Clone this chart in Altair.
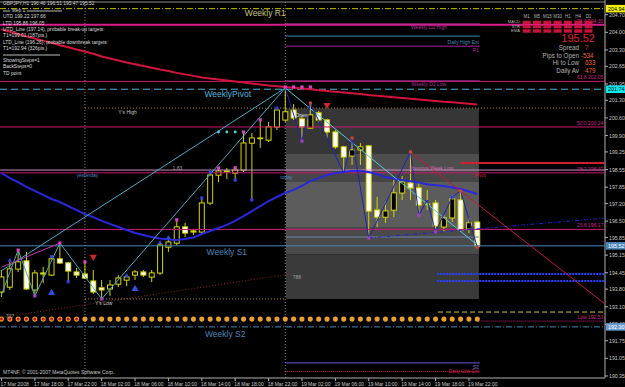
import altair as alt
import pandas as pd

# ---------------- data ----------------
open_ = [193.69, 193.88, 194.60, 194.92, 193.77, 194.44, 194.36, 195.00, 194.84, 194.48,
         194.40, 194.12, 193.85, 193.81, 194.00, 194.16, 194.36, 194.48, 194.28, 194.44,
         195.47, 195.63, 196.27, 196.11, 196.07, 197.22, 198.33, 198.49, 198.41, 198.53,
         199.60, 199.80, 199.72, 200.24, 200.52, 200.91, 200.56, 200.20, 200.80, 200.52,
         200.04, 199.45, 199.09, 199.33, 199.49, 196.94, 196.66, 196.94, 197.62, 198.01,
         197.82, 197.18, 197.22, 196.27, 196.63, 197.34, 196.19, 196.46]
high = [194.56, 194.88, 195.35, 195.28, 194.56, 194.68, 195.12, 195.63, 194.88, 194.64,
        194.88, 194.56, 194.16, 194.16, 194.36, 194.36, 194.56, 194.56, 194.56, 195.63,
        195.83, 196.55, 196.43, 196.19, 197.38, 198.45, 198.61, 198.61, 198.65, 200.00,
        200.00, 200.52, 200.44, 200.99, 201.79, 201.15, 200.64, 201.19, 200.88, 200.56,
        200.12, 199.49, 199.80, 199.60, 199.53, 197.46, 197.26, 198.13, 198.29, 199.25,
        198.01, 197.74, 197.34, 196.74, 197.54, 197.70, 196.63, 196.51]
low = [193.49, 193.77, 194.48, 193.77, 193.53, 194.04, 194.32, 194.80, 194.08, 194.24,
       194.20, 193.61, 193.41, 193.53, 193.88, 193.92, 194.16, 194.28, 194.08, 194.36,
       195.28, 195.55, 195.87, 195.95, 195.99, 197.14, 198.05, 198.17, 198.13, 198.45,
       197.34, 199.41, 199.64, 200.12, 200.44, 200.52, 199.68, 200.16, 200.44, 199.80,
       199.37, 198.41, 198.73, 198.73, 195.83, 196.27, 196.43, 196.66, 197.34, 197.34,
       196.74, 196.94, 196.07, 196.07, 196.47, 196.07, 196.03, 195.47]
close = [194.28, 194.60, 194.88, 193.81, 194.44, 194.40, 195.00, 194.84, 194.52, 194.36,
         194.24, 193.69, 193.77, 193.96, 194.24, 194.28, 194.48, 194.36, 194.44, 195.55,
         195.67, 196.27, 196.03, 196.07, 197.22, 198.33, 198.49, 198.47, 198.53, 199.60,
         199.80, 199.78, 200.24, 200.91, 200.84, 200.60, 200.24, 200.72, 200.52, 200.04,
         199.45, 199.05, 199.33, 199.45, 196.90, 196.66, 196.90, 197.62, 198.05, 197.82,
         197.14, 197.16, 196.31, 196.63, 197.38, 196.15, 196.43, 195.52]
ma_blue = [198.41, 198.21, 198.05, 197.86, 197.70, 197.54, 197.38, 197.26, 197.10, 196.94,
           196.78, 196.66, 196.51, 196.39, 196.27, 196.15, 196.03, 195.95, 195.87, 195.81,
           195.77, 195.75, 195.79, 195.85, 195.99, 196.11, 196.23, 196.35, 196.51, 196.70,
           196.90, 197.10, 197.30, 197.46, 197.62, 197.74, 197.90, 198.09, 198.21, 198.33,
           198.41, 198.45, 198.49, 198.49, 198.45, 198.37, 198.25, 198.19, 198.13, 198.09,
           198.03, 197.97, 197.93, 197.90, 197.84, 197.78, 197.68, 197.58]
ma_red = [204.12, 204.02, 203.93, 203.84, 203.75, 203.67, 203.58, 203.49, 203.41, 203.32,
          203.24, 203.15, 203.04, 202.96, 202.88, 202.80, 202.73, 202.66, 202.59, 202.52,
          202.46, 202.39, 202.33, 202.27, 202.21, 202.17, 202.13, 202.09, 202.05, 202.01,
          201.97, 201.93, 201.89, 201.86, 201.83, 201.80, 201.77, 201.74, 201.70, 201.67,
          201.64, 201.61, 201.58, 201.55, 201.51, 201.48, 201.45, 201.42, 201.39, 201.36,
          201.33, 201.30, 201.27, 201.24, 201.22, 201.19, 201.16, 201.13]

time_labels = ["17 Mar 2008", "17 Mar 18:00", "17 Mar 22:00", "18 Mar 02:00", "18 Mar 06:00",
               "18 Mar 10:00", "18 Mar 14:00", "18 Mar 18:00", "18 Mar 22:00", "19 Mar 02:00",
               "19 Mar 06:00", "19 Mar 10:00", "19 Mar 14:00", "19 Mar 18:00", "19 Mar 22:00"]
price_ticks = [204.70, 204.00, 203.30, 202.65, 201.95, 201.30, 200.60, 199.90, 199.25, 198.55,
               197.85, 197.20, 196.50, 195.85, 195.15, 194.45, 193.80, 193.10, 192.40, 191.75,
               191.05, 190.35]

fib_levels = [192.53, 196.17, 198.42, 200.24, 202.05, 204.30]
fib_names = ["Low", "23.6", "38.2", "50.0", "61.8", "76.4"]
weekly_r1, weekly_pivot, weekly_s1, weekly_s2 = 204.94, 201.74, 195.52, 192.30
weekly_d2_high, weekly_d2_low = 204.33, 202.07
daily_high_ext, daily_r1, daily_s2, daily_low_ext = 203.85, 203.45, 190.87, 190.53
prev_week_low, today_level = 198.53, 195.87
ys_high, ys_low = 200.99, 193.41
box_bands = [200.97, 199.17, 198.53, 198.06, 196.27, 195.19, 193.41]

zz_left_i = [0, 2, 4, 7, 12, 34]
zz_left_p = [193.57, 195.35, 193.53, 195.63, 193.41, 201.79]
tl_a_i = [0, 34]
tl_a_p = [194.53, 201.79]
tl_pink_i = [0, 7]
tl_pink_p = [194.67, 195.63]
tl_c_i = [34, 57.3]
tl_c_p = [201.79, 195.47]
zz_right_i = [34, 36, 37, 41, 42, 44, 49, 50, 51, 52, 54, 55, 57]
zz_right_p = [201.79, 199.68, 201.19, 198.41, 199.80, 195.83, 199.25, 196.74, 197.34, 196.08, 197.46, 197.70, 195.47]
ltd_i = [44, 72.3]
ltd_p = [195.83, 196.62]
utd_i = [49, 72.3]
utd_p = [199.25, 193.21]
dot_line_i = [0, 34.6]
dot_line_p = [192.68, 194.40]
dots_price = 192.61

hi_mark_i = [2, 7, 10, 21, 26, 28, 29, 31, 34, 35, 36, 37]
hi_mark_p = [195.35, 195.63, 194.88, 196.55, 198.61, 198.62, 200.04, 200.52, 201.83, 201.83, 201.83, 201.83]
lo_mark_i = [4, 12, 36, 44, 50, 52]
lo_mark_p = [193.53, 193.41, 199.68, 195.83, 196.74, 196.08]
red_mark_i = [37, 42, 49, 55, 57]
red_mark_p = [201.19, 199.80, 199.25, 197.70, 195.47]
blue_mark_i = [6, 8, 24, 25, 28, 30, 33, 54]
blue_mark_p = [195.09, 194.09, 197.42, 198.45, 198.13, 197.34, 200.99, 197.46]
cyan_mark_i = [26, 27, 28]
cyan_mark_p = [200.04, 200.04, 200.04]
up_big_i = [6, 16]
up_big_p = [193.69, 193.85]
up_small_i = [1, 15, 19, 20]
up_small_p = [194.96, 194.36, 195.67, 195.87]
dn_big_i = [11, 39]
dn_big_p = [195.04, 201.07]

panel_cols = ["M1", "M5", "M15", "M30", "H1", "H4", "D1"]
panel_rows = ["MACD", "STR", "EMA"]

# ---------------- helpers ----------------
W, H = 605, 378
X0, X1 = -0.174, 72.3
P0, P1 = 190.27, 205.284
XS = alt.Scale(domain=[X0, X1], nice=False, zero=False)
YS = alt.Scale(domain=[P0, P1], nice=False, zero=False)
FONT = "Liberation Sans"
PPX = (P1 - P0) / H  # price per pixel


def ix(px):
    return X0 + px * (X1 - X0) / W


def pr(py):
    return P1 - py * PPX


def X(f):
    return alt.X(f + ":Q", scale=XS, axis=None)


def Y(f):
    return alt.Y(f + ":Q", scale=YS, axis=None)


def hrule(levels, a, b, color, width=1.0, dash=None):
    df = pd.DataFrame({"p": levels, "a": [a] * len(levels), "b": [b] * len(levels)})
    kw = dict(color=color, strokeWidth=width)
    if dash:
        kw["strokeDash"] = dash
    return alt.Chart(df).mark_rule(**kw).encode(x=X("a"), x2="b:Q", y=Y("p"))


def vrule(ii, lo, hi, color, width=1.0, dash=None):
    df = pd.DataFrame({"i": ii, "lo": lo, "hi": hi})
    kw = dict(color=color, strokeWidth=width)
    if dash:
        kw["strokeDash"] = dash
    return alt.Chart(df).mark_rule(**kw).encode(x=X("i"), y=Y("lo"), y2="hi:Q")


def poly(ii, pp, color, width=1.0, dash=None):
    df = pd.DataFrame({"i": ii, "p": pp})
    kw = dict(color=color, strokeWidth=width)
    if dash:
        kw["strokeDash"] = dash
    return alt.Chart(df).mark_line(**kw).encode(x=X("i"), y=Y("p"))


def marks(ii, pp, color, size=9, shape="square"):
    df = pd.DataFrame({"i": ii, "p": pp})
    return alt.Chart(df).mark_point(shape=shape, filled=True, color=color, size=size, opacity=1).encode(x=X("i"), y=Y("p"))


def dlabel(items, color, size=6.5, align="left", baseline="middle", dy=0):
    df = pd.DataFrame({"t": [t for t, _, _ in items], "i": [i for _, i, _ in items], "p": [p for _, _, p in items]})
    return alt.Chart(df).mark_text(color=color, fontSize=size, align=align, baseline=baseline, dy=dy,
                                   font=FONT).encode(x=X("i"), y=Y("p"), text="t:N")


def plabel(items, color, size=6.5, align="left"):
    return dlabel([(t, ix(x), pr(y)) for t, x, y in items], color, size, align)


def prule(x0, x1, y0, color, width=1):
    return hrule([pr(y0)], ix(x0), ix(x1), color, width)


def rects(a, b, p1, p2, color):
    df = pd.DataFrame({"a": a, "b": b, "p1": p1, "p2": p2})
    return alt.Chart(df).mark_rect(color=color).encode(x=X("a"), x2="b:Q", y=Y("p1"), y2="p2:Q")


n = len(close)
idx = list(range(n))
top_ = [max(o, c) for o, c in zip(open_, close)]
bot_ = [min(o, c) for o, c in zip(open_, close)]
is_bull = [c >= o for o, c in zip(open_, close)]

layers = []

# gray "yesterday range" box for today, with bands
band_fill = ["#363636", "#4e4e4e", "#464646", "#5c5c5c", "#4a4a4a", "#3a3a3a"]
for k in range(len(box_bands) - 1):
    layers.append(rects([34.08], [57.2], [box_bands[k]], [box_bands[k + 1]], band_fill[k]))

# day separators
layers.append(vrule([10, 34], [P0, P0], [P1, P1], "#8a8a8a", 1, [1, 2]))

# candles: wicks, body outline (yellow) then fill
layers.append(vrule(idx, low, high, "#d4d400", 1))
layers.append(vrule(idx, [b - 0.025 for b in bot_], [t + 0.025 for t in top_], "#d4d400", 6))
bi = [i for i in idx if is_bull[i] and top_[i] - bot_[i] > 0.05]
be = [i for i in idx if (not is_bull[i]) and top_[i] - bot_[i] > 0.05]
layers.append(vrule(bi, [bot_[i] + 0.015 for i in bi], [top_[i] - 0.015 for i in bi], "#000000", 4))
layers.append(vrule(be, [bot_[i] + 0.015 for i in be], [top_[i] - 0.015 for i in be], "#ffffff", 4))

# frame: right price scale and bottom time scale, drawn from the data ranges
layers.append(vrule([X1], [P0], [P1], "#b0b0b0", 1))
layers.append(hrule([P0], X0, X1, "#b0b0b0", 1))
layers.append(hrule(price_ticks, X1, ix(W + 3), "#b0b0b0", 1))
layers.append(dlabel([("%.2f" % p, ix(W + 4), p) for p in price_ticks], "#c8c8c8", 5.2, "left"))
tick_i = list(range(0, 57, 4))
layers.append(vrule(tick_i, [P0] * len(tick_i), [pr(H + 3)] * len(tick_i), "#b0b0b0", 1))
layers.append(dlabel([(t, 4 * k - 0.1, pr(H + 6)) for k, t in enumerate(time_labels)], "#c8c8c8", 5, "left"))

# fibonacci levels
layers.append(hrule(fib_levels[1:-1], X0, X1, "#c8186e", 1))
layers.append(hrule([fib_levels[0]], 57.5, X1, "#d0207a", 1, [1, 1]))
layers.append(hrule([fib_levels[-1]], X0, X1, "#d81e8c", 2))

# pivot style levels
layers.append(hrule([weekly_r1], X0, X1, "#c8c800", 1, [6, 2, 1, 2]))
layers.append(hrule([weekly_pivot], X0, X1, "#50b4dc", 1, [7, 4]))
layers.append(hrule([weekly_s1], X0, X1, "#4a86b8", 1))
layers.append(hrule([weekly_s2], X0, X1, "#4a86b8", 1, [6, 2, 1, 2]))
layers.append(hrule([weekly_d2_high, weekly_d2_low], 34, 57.3, "#b0309a", 1))
layers.append(hrule([daily_high_ext], 34, 57.3, "#3c8cb4", 1))
layers.append(hrule([daily_r1], 34, 57.3, "#b0209a", 1))
layers.append(hrule([daily_s2], 34, 57.3, "#6a5acd", 1))
layers.append(hrule([daily_low_ext], 34, 57.3, "#d01e50", 1, [1, 1]))
layers.append(hrule([prev_week_low], X0, X1, "#c890c0", 1))
layers.append(hrule([today_level], 34.08, 57.2, "#7080a8", 1))
layers.append(hrule([ys_high], 10, X1, "#b08c50", 1, [1, 2]))
layers.append(hrule([ys_low], 10, 34, "#b08c50", 1, [1, 2]))
layers.append(hrule([198.81], 55, X1, "#d01e32", 2))
layers.append(hrule([194.40, 194.12], 52.2, X1, "#2840ff", 2, [2, 1]))
layers.append(hrule([192.89], 52.3, X1, "#c8c832", 1, [5, 3]))

# dotted line lower left
layers.append(poly(dot_line_i, dot_line_p, "#8c2828", 1, [1, 2]))

# moving averages
layers.append(poly(idx, ma_red, "#d2143c", 2))
layers.append(poly(idx, ma_blue, "#2828dc", 2))

# zigzags and trend lines
layers.append(poly(tl_a_i, tl_a_p, "#46aac8", 1))
layers.append(poly(zz_left_i, zz_left_p, "#46aac8", 1))
layers.append(poly(tl_pink_i, tl_pink_p, "#c832b4", 1))
layers.append(poly(tl_c_i, tl_c_p, "#5ac8dc", 1))
layers.append(poly(zz_right_i, zz_right_p, "#2020b4", 1))
layers.append(poly(ltd_i, ltd_p, "#2020d0", 1, [4, 2, 1, 2]))
layers.append(poly(utd_i, utd_p, "#c8143c", 1))

# indicator dots row
layers.append(marks(idx, [dots_price] * n, "#eaa030", 26, "circle"))
layers.append(marks(idx[:10], [dots_price] * 10, "#c81414", 9, "circle"))

# markers
layers.append(marks(hi_mark_i, hi_mark_p, "#e040c8", 10))
layers.append(marks(lo_mark_i, lo_mark_p, "#a040c8", 10))
layers.append(marks(red_mark_i, red_mark_p, "#d04040", 10))
layers.append(marks(blue_mark_i, blue_mark_p, "#3040e0", 10))
layers.append(marks(cyan_mark_i, cyan_mark_p, "#60d0e0", 8, "circle"))
layers.append(marks(up_big_i, up_big_p, "#3050e0", 50, "triangle-up"))
layers.append(marks(up_small_i, up_small_p, "#3050e0", 20, "triangle-up"))
layers.append(marks(dn_big_i, dn_big_p, "#d02828", 50, "triangle-down"))

# level labels
layers.append(dlabel([("Weekly R1", 31.6, weekly_r1)], "#c8c878", 8.5, "center", dy=4))
layers.append(dlabel([("WeeklyPivot", 27.1, weekly_pivot)], "#50b4dc", 8.5, "center", dy=5))
layers.append(dlabel([("Weekly S1", 27.0, weekly_s1)], "#4a86b8", 8.5, "center", dy=6))
layers.append(dlabel([("Weekly S2", 26.8, weekly_s2)], "#4a86b8", 8.5, "center", dy=7))
layers.append(dlabel([("Weekly D2 High", 51.2, weekly_d2_high), ("Weekly D2 Low", 51.2, weekly_d2_low)], "#b0309a", 5, "center", dy=3))
layers.append(dlabel([("Daily High Ext", 57.2, daily_high_ext)], "#3c8cb4", 5, "right", dy=6))
layers.append(dlabel([("R1", 57.2, daily_r1)], "#b0209a", 5, "right", dy=4))
layers.append(dlabel([("S2", 57.2, daily_s2)], "#7a6ad8", 5, "right", dy=4))
layers.append(dlabel([("Daily Low Ext", 57.2, daily_low_ext)], "#d01e50", 5, "right"))
layers.append(dlabel([("Previous Week Low", 51.5, prev_week_low)], "#c870b0", 5, "center", dy=-2))
layers.append(dlabel([("Pivot", 58, 198.35)], "#d02040", 5, "right"))
layers.append(dlabel([("Y's High", 14, ys_high), ("Y's Low", 11.2, ys_low)], "#c8c8c8", 5, "left", dy=4))
layers.append(dlabel([("Open", 35.2, 200.71)], "#e0e0e0", 5, "left"))
layers.append(dlabel([("%s   %.2f" % (nm, lv), 72.1, lv) for nm, lv in zip(fib_names, fib_levels)], "#d0208a", 5, "right", "bottom", dy=-1))
layers.append(dlabel([("yesterday", 9, 198.35), ("today", 33.4, 198.25)], "#4a86c8", 5, "left"))
layers.append(dlabel([("1.83", 20.5, 198.62), ("707", 0.5, 192.75), ("788", 34.9, 194.30)], "#a0a0a0", 5, "left"))

# axis price boxes
box_info = [(weekly_r1, "204.94", "#f0f000", "#000000"), (weekly_pivot, "201.74", "#00e8f0", "#000000"),
            (weekly_s1, "195.52", "#4a86b8", "#ffffff"), (weekly_s2, "192.30", "#6a9ad0", "#ffffff")]
for p, t, bg, fg in box_info:
    layers.append(rects([ix(W + 1)], [ix(W + 20)], [p + 0.15], [p - 0.15], bg))
    layers.append(dlabel([(t, ix(W + 3), p)], fg, 5.4, "left"))

# top-left info block
info = ["GBPJPY,H1 196.46 196.51 195.47 195.52", "UTD 199.22 197.66", "LTD 195.86 196.05",
        "UTD_Line (197.14), probable break-up targets:", "T1=199.01 (187pts.)",
        "LTD_Line (196.26), probable downbreak targets:", "T1=192.94 (326pts.)",
        "ShowingSteps=1", "BackSteps=0", "TD point"]
info_y = [4, 17, 23.5, 30, 36, 42.5, 48.5, 61, 67, 73.5]
layers.append(plabel([(t, 3, yy) for t, yy in zip(info, info_y)] + [("step 1", 12, 11)], "#dcdcdc", 4.9))
layers.append(prule(3, 10, 11, "#bcbcbc"))
layers.append(prule(27, 62, 11, "#bcbcbc"))
layers.append(prule(3, 60, 55, "#bcbcbc"))
layers.append(prule(0, W, 2, "#8c8c8c"))

# right indicator panel
ca, cb, cp1, cp2 = [], [], [], []
for r in range(3):
    for c in range(7):
        x0 = 522.7 + 10.3 * c
        y0 = 20.7 + 4.3 * r
        ca.append(ix(x0)); cb.append(ix(x0 + 8)); cp1.append(pr(y0)); cp2.append(pr(y0 + 3.4))
layers.append(rects(ca, cb, cp1, cp2, "#c8143c"))
layers.append(plabel([(c, 526.7 + 10.3 * k, 16.5) for k, c in enumerate(panel_cols)], "#b4b4b4", 4.5, "center"))
layers.append(plabel([(r, 520, 22.4 + 4.3 * k) for k, r in enumerate(panel_rows)], "#b4b4b4", 4.2, "right"))
layers.append(plabel([("195.52", 595, 39)], "#e0202a", 11, "right"))
layers.append(plabel([("Spread", 579, 48.3), ("Pips to Open", 579, 55.5), ("Hi to Low", 579, 63), ("Daily Av", 579, 70.7)],
                     "#b4b4b4", 6.3, "right"))
layers.append(plabel([("7", 585, 48.3)], "#e83c1e", 6.3))
layers.append(plabel([("-534", 581, 55.5), ("633", 585, 63), ("479", 585, 70.7)], "#f0642a", 6.3))
layers.append(plabel([("MT4NF, © 2001-2007 MetaQuotes Software Corp.", 3, 372)], "#c8c8c8", 5))

chart = alt.layer(*layers).properties(
    width=W, height=H,
    autosize=alt.AutoSizeParams(type="none"),
    padding={"left": 0, "top": 0, "right": 20, "bottom": 9},
).configure(background="#000000").configure_view(strokeWidth=0)

chart.save("out.html", embed_options={"renderer": "svg", "actions": False})
